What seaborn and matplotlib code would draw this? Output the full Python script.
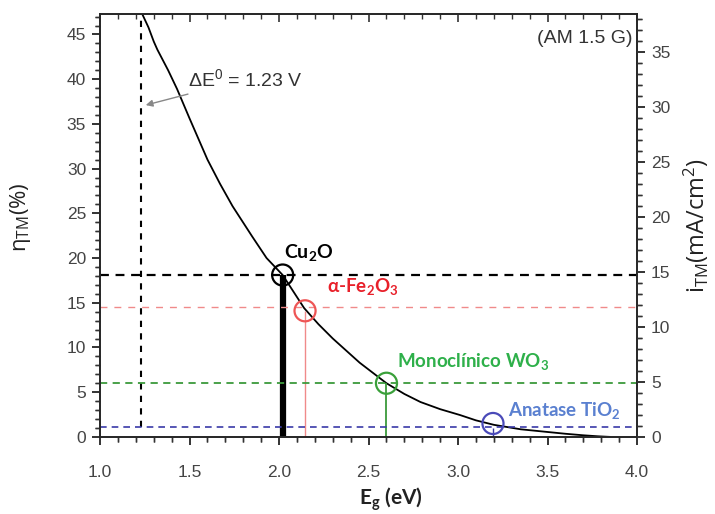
import matplotlib
matplotlib.use("Agg")
import matplotlib.pyplot as plt
import seaborn as sns
import pandas as pd
from matplotlib.ticker import MultipleLocator
from matplotlib.transforms import blended_transform_factory as blend

# curve: band gap (eV) vs STH efficiency (%)
eg_curve = [1.235, 1.27, 1.30, 1.32, 1.38, 1.43, 1.50, 1.60, 1.67, 1.74, 1.85, 1.93,
            2.02, 2.14, 2.22, 2.30, 2.45, 2.60, 2.70, 2.79, 2.90, 3.01, 3.10, 3.20,
            3.35, 3.50, 3.60, 3.70, 3.78, 3.85]
eta_curve = [47.3, 45.8, 44.2, 43.3, 41.0, 38.9, 35.6, 31.0, 28.3, 25.8, 22.4, 20.0,
             18.1, 14.4, 12.6, 11.0, 8.3, 6.0, 4.8, 3.9, 3.1, 2.45, 1.85, 1.35,
             0.85, 0.55, 0.35, 0.18, 0.07, 0.0]

materials = ["Cu$_2$O", "α-Fe$_2$O$_3$", "Monoclínico WO$_3$", "Anatase TiO$_2$"]
mat_eg = [2.02, 2.145, 2.60, 3.195]
mat_eta = [18.1, 14.1, 6.0, 1.5]          # circle centres
mat_level = [18.1, 14.5, 6.0, 1.15]       # horizontal dashed levels
line_colors = ["black", "#f08a8a", "#3c9a3c", "#3a3aa8"]
circle_colors = ["black", "#ee5555", "#3aa03a", "#4a4ab8"]
text_colors = ["black", "#e8202a", "#2eb04a", "#5a80d0"]

dE0 = 1.23
ylim_eta = 47.3

sns.set_theme(style="ticks")
plt.rcParams["font.family"] = ["Liberation Sans", "DejaVu Sans"]
plt.rcParams["mathtext.default"] = "regular"

fig = plt.figure(figsize=(7.15, 5.14), dpi=100)
ax = fig.add_axes([0.140, 0.150, 0.751, 0.823])

df = pd.DataFrame({"Eg": eg_curve, "eta": eta_curve})
sns.lineplot(data=df, x="Eg", y="eta", color="black", lw=1.3, ax=ax,
             estimator=None, sort=False)

# vertical dashed line at 1.23 eV
ax.plot([dE0, dE0], [1.1, ylim_eta], ls=(0, (3, 3)), color="black", lw=1.5)

widths = [1.6, 1.0, 1.3, 1.2]
dashes = [(0, (4, 3)), (0, (5, 5)), (0, (4, 3)), (0, (4, 3))]
vlw = [4.5, 1.0, 1.3, 1.0]
for i in range(len(materials)):
    ax.axhline(mat_level[i], color=line_colors[i], lw=widths[i], ls=dashes[i])
    ax.plot([mat_eg[i], mat_eg[i]], [0, mat_eta[i] - (0.5 if i == 3 else 0)],
            color=line_colors[i], lw=vlw[i], solid_capstyle="butt")

sns.scatterplot(x=mat_eg, y=mat_eta, ax=ax, s=230, facecolors="none",
                edgecolor=circle_colors, linewidth=1.6, zorder=5, legend=False)

lato = ["Lato", "DejaVu Sans"]
ax.text(2.03, 19.4, materials[0], color=text_colors[0], fontsize=14,
        fontweight="bold", family=lato, ha="left", va="bottom")
ax.text(2.27, 15.6, materials[1], color=text_colors[1], fontsize=13.5,
        fontweight="bold", family=lato, ha="left", va="bottom")
ax.text(2.66, 7.3, materials[2], color=text_colors[2], fontsize=13.5,
        fontweight="bold", family=lato, ha="left", va="bottom")
ax.text(3.28, 1.8, materials[3], color=text_colors[3], fontsize=13.5,
        fontweight="bold", family=lato, ha="left", va="bottom")

ax.annotate(r"$\Delta$E$^0$ = 1.23 V", xy=(1.255, 37.1), xytext=(1.49, 40.0),
            fontsize=14, color="#333333", va="center",
            arrowprops=dict(arrowstyle="-|>", color="#888888", lw=1.0,
                            shrinkA=2, shrinkB=0, mutation_scale=10))
ax.text(3.975, 44.5, "(AM 1.5 G)", fontsize=14, color="#333333",
        ha="right", va="center")

ax.set_xlim(1.0, 4.0)
ax.set_ylim(0, ylim_eta)
ax.xaxis.set_major_locator(MultipleLocator(0.5))
ax.xaxis.set_minor_locator(MultipleLocator(0.1))
ax.yaxis.set_major_locator(MultipleLocator(5))
ax.yaxis.set_minor_locator(MultipleLocator(1))
ax.tick_params(axis="both", which="major", length=6, width=1.2, direction="out",
               labelsize=12.5, labelcolor="#444444", color="#333333")
ax.tick_params(axis="both", which="minor", length=3.5, width=1.0, direction="out",
               color="#333333")
ax.tick_params(axis="x", which="major", pad=14)
ax.tick_params(axis="y", which="both", left=True, right=False, pad=4)
for sp in ax.spines.values():
    sp.set_visible(True)
    sp.set_color("#333333")
    sp.set_linewidth(1.3)

ax.set_xlabel("E$_g$ (eV)", fontsize=15, fontweight="bold",
              family=lato, color="#222222")
ax.xaxis.set_label_coords(0.542, -0.115)
ax.set_ylabel("η$_{TM}$(%)", fontsize=16, family=["Open Sans", "DejaVu Sans"],
              color="#222222")
ax.yaxis.set_label_coords(-0.125, 0.52)

ax2 = ax.twinx()
ax2.set_ylim(0, ylim_eta / dE0)
ax2.yaxis.set_major_locator(MultipleLocator(5))
ax2.yaxis.set_minor_locator(MultipleLocator(1))
ax2.tick_params(axis="y", which="major", length=6, width=1.2, direction="out",
                labelsize=12.5, labelcolor="#444444", color="#333333", pad=4)
ax2.tick_params(axis="y", which="minor", length=3.5, width=1.0, direction="out",
                color="#333333")
ax2.set_ylabel("i$_{TM}$(mA/cm$^2$)", fontsize=17,
               family=["Open Sans", "DejaVu Sans"], color="#222222", labelpad=8)

# tick marks kept going missing in the saved png, so draw them as line
# collections at the locator positions (bottom/left/right out, top in)
W, H = 537.0, 423.0   # axes size in px
x0, x1 = ax.get_xlim()
y0, y1 = ax.get_ylim()
r0, r1 = ax2.get_ylim()
xmaj = [v for v in ax.xaxis.get_majorticklocs() if x0 - 1e-9 <= v <= x1 + 1e-9]
xmin = [v for v in ax.xaxis.get_minorticklocs() if x0 <= v <= x1]
ymaj = [v for v in ax.yaxis.get_majorticklocs() if y0 - 1e-9 <= v <= y1]
ymin = [v for v in ax.yaxis.get_minorticklocs() if y0 <= v <= y1]
rmaj = [v for v in ax2.yaxis.get_majorticklocs() if r0 - 1e-9 <= v <= r1]
rmin = [v for v in ax2.yaxis.get_minorticklocs() if r0 <= v <= r1]

tx = blend(ax.transData, ax.transAxes)
ty = blend(ax.transAxes, ax.transData)
tr = blend(ax2.transAxes, ax2.transData)
tick_style = dict(color="#333333", clip_on=False, zorder=6)
for locs, size, lw in [(xmaj, 8, 1.2), (xmin, 5, 1.0)]:
    ax.vlines(locs, -size / H, 0, transform=tx, lw=lw, **tick_style)
    ax.vlines(locs, 1 - size / H, 1, transform=tx, lw=lw, **tick_style)
for locs, size, lw in [(ymaj, 8, 1.2), (ymin, 5, 1.0)]:
    ax.hlines(locs, -size / W, 0, transform=ty, lw=lw, **tick_style)
for locs, size, lw in [(rmaj, 8, 1.2), (rmin, 5, 1.0)]:
    ax2.hlines(locs, 1, 1 + size / W, transform=tr, lw=lw, **tick_style)

fig.savefig("out.png", dpi=100)
